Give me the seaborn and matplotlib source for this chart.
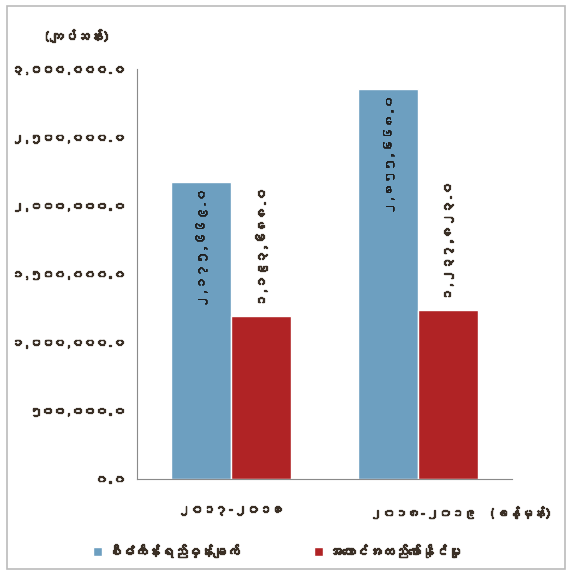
import pandas as pd
import numpy as np
import matplotlib
matplotlib.use("Agg")
import matplotlib.pyplot as plt
import matplotlib.font_manager as fm
import matplotlib.patheffects as pe
from matplotlib.transforms import ScaledTranslation
import seaborn as sns

sns.set_style("white")

# pick a font that can draw Myanmar script if one is installed
my_font = "DejaVu Sans"
try:
    from fontTools.ttLib import TTFont
    for f in fm.fontManager.ttflist:
        try:
            cmap = TTFont(f.fname, fontNumber=0, lazy=True).getBestCmap()
        except Exception:
            continue
        if cmap and 0x1040 in cmap and 0x1000 in cmap:
            my_font = f.name
            break
except Exception:
    pass
plt.rcParams['font.family'] = [my_font, 'DejaVu Sans']

categories = ["၂၀၁၇-၂၀၁၈", "၂၀၁၈-၂၀၁၉  (ခန့်မှန်း)"]
series = ["စီမံကိန်းရည်မှန်းချက်", "အကောင်အထည်ဖော်နိုင်မှု"]
plan_values = [2175669.0, 2855668.0]
actual_values = [1193688.0, 1237823.0]
plan_labels = ["၂,၁၇၅,၆၆၉.၀", "၂,၈၅၅,၆၆၈.၀"]
actual_labels = ["၁,၁၉၃,၆၈၈.၀", "၁,၂၃၇,၈၂၃.၀"]
y_ticks = [0, 500000, 1000000, 1500000, 2000000, 2500000, 3000000]
y_tick_labels = ["၀.၀", "၅၀၀,၀၀၀.၀", "၁,၀၀၀,၀၀၀.၀", "၁,၅၀၀,၀၀၀.၀",
                 "၂,၀၀၀,၀၀၀.၀", "၂,၅၀၀,၀၀၀.၀", "၃,၀၀၀,၀၀၀.၀"]
unit_label = "(ကျပ်သန်း)"

df = pd.DataFrame({
    "year": categories * 2,
    "series": [series[0]] * 2 + [series[1]] * 2,
    "value": plan_values + actual_values,
})

text_col = "#3b3026"
blue = "#6d9fc0"
red = "#b02325"
bold = [pe.withStroke(linewidth=0.9, foreground=text_col)]

fig = plt.figure(figsize=(5.74, 5.75), dpi=100)
ax = fig.add_axes([0.239, 0.167, 0.653, 0.713])
sns.barplot(data=df, x="year", y="value", hue="series", palette=[blue, red],
            width=0.64, saturation=1, ax=ax, legend=True)

ax.set_ylim(0, 3000000)
ax.set_xlim(-0.5, 1.5)
ax.set_yticks(y_ticks)
ax.set_yticklabels(y_tick_labels, fontsize=8.6, color=text_col)
ax.set_xticks([0, 1])
ax.set_xticklabels(categories, fontsize=9, color=text_col)
ax.set_xlabel("")
ax.set_ylabel("")
ax.tick_params(axis="x", length=0, pad=19)
ax.tick_params(axis="y", length=4, direction="inout", color="#999999", pad=7)
for lab in ax.get_yticklabels() + ax.get_xticklabels():
    lab.set_path_effects(bold)
# second category label sits to the right in the original
xl = ax.get_xticklabels()[1]
xl.set_transform(xl.get_transform() + ScaledTranslation(0.42, 0, fig.dpi_scale_trans))
for s in ["top", "right"]:
    ax.spines[s].set_visible(False)
for s in ["left", "bottom"]:
    ax.spines[s].set_color("#8a8a8a")

# value labels, rotated
bars_plan = ax.containers[0]
bars_act = ax.containers[1]
for bar, lab in zip(bars_plan, plan_labels):
    t = ax.text(bar.get_x() + bar.get_width() / 2, bar.get_height() - 50000, lab,
                rotation=90, ha="center", va="top", fontsize=9, color="#1e1e1e")
    t.set_path_effects([pe.withStroke(linewidth=0.5, foreground="#1e1e1e")])
for bar, lab in zip(bars_act, actual_labels):
    t = ax.text(bar.get_x() + bar.get_width() / 2, bar.get_height() + 70000, lab,
                rotation=90, ha="center", va="bottom", fontsize=9, color=text_col)
    t.set_path_effects(bold)

leg = ax.legend(loc="upper left", bbox_to_anchor=(-0.15, -0.13), ncol=2, frameon=False,
                handlelength=0.7, handleheight=0.7, columnspacing=5.6,
                handletextpad=0.4, labelcolor=text_col, prop={"size": 9.5})
for t in leg.get_texts():
    t.set_path_effects(bold)

ut = fig.text(0.075, 0.93, unit_label, fontsize=9.5, color=text_col)
ut.set_path_effects(bold)
fig.patches.append(plt.Rectangle((0.012, 0.01), 0.972, 0.98, transform=fig.transFigure,
                                 fill=False, edgecolor="#bbbbbb", linewidth=1.2))

fig.savefig("out.png", dpi=100)
